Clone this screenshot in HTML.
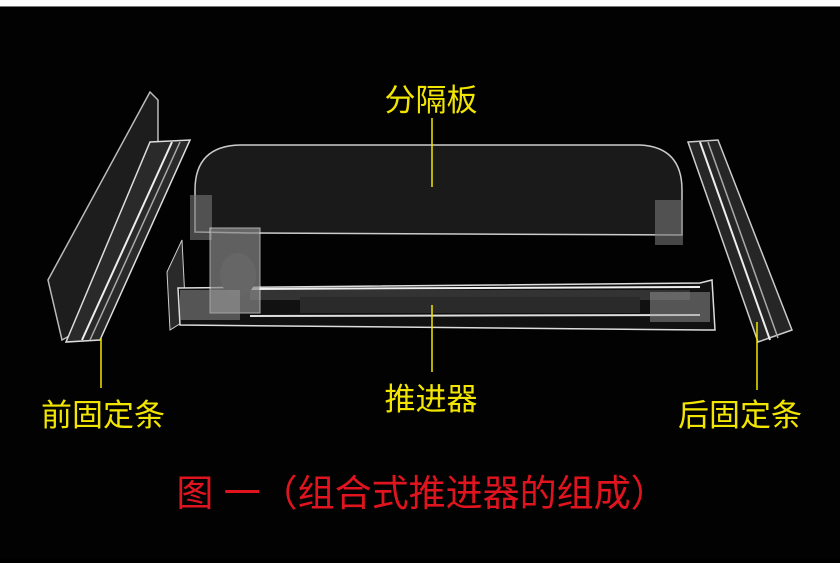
<!DOCTYPE html>
<html><head><meta charset="utf-8"><style>
html,body{margin:0;padding:0;background:#000;}
.t{font-family:"Liberation Sans","Noto Sans CJK SC",sans-serif;}
</style></head><body>
<svg width="840" height="558" viewBox="0 0 840 558" xmlns="http://www.w3.org/2000/svg">
<rect width="840" height="558" fill="#020202"/>
<rect width="840" height="6" fill="#fff"/>
<rect y="6" width="840" height="1" fill="#777"/>
<!-- left strip -->
<polygon points="48,280 150,92 158,100 158,150 80,330 62,340" fill="#1d1d1d" stroke="#bbb" stroke-width="1.5"/>
<polygon points="150,142 190,140 100,340 66,342" fill="#2a2a2a" stroke="#ddd" stroke-width="1.5"/>
<line x1="172" y1="142" x2="82" y2="340" stroke="#eee" stroke-width="2"/>
<line x1="180" y1="142" x2="90" y2="340" stroke="#aaa" stroke-width="1.5"/>
<!-- right strip -->
<polygon points="688,142 718,140 792,330 758,342" fill="#262626" stroke="#ccc" stroke-width="1.5"/>
<line x1="700" y1="142" x2="770" y2="340" stroke="#eee" stroke-width="2"/>
<line x1="708" y1="142" x2="778" y2="338" stroke="#aaa" stroke-width="1.5"/>
<!-- divider -->
<path d="M195,210 L195,190 Q195,146 240,145 L640,145 Q682,147 682,190 L682,235 L250,233 L195,232 Z" fill="#1a1a1a" stroke="#ccc" stroke-width="1.5"/>
<rect x="190" y="195" width="22" height="45" fill="#777" opacity="0.6"/>
<rect x="655" y="200" width="28" height="45" fill="#777" opacity="0.6"/>
<!-- pusher -->
<polygon points="167,272 182,240 186,320 170,330" fill="#2a2a2a" stroke="#ccc"/>
<polygon points="178,288 700,283 712,280 715,330 705,330 180,325" fill="#111" stroke="#ddd" stroke-width="1.5"/>
<rect x="250" y="290" width="440" height="10" fill="#333"/>
<line x1="250" y1="289" x2="700" y2="287" stroke="#eee" stroke-width="2"/>
<line x1="250" y1="316" x2="700" y2="315" stroke="#ddd" stroke-width="2"/>
<rect x="300" y="297" width="340" height="16" fill="#2a2a2a"/>
<rect x="210" y="228" width="50" height="85" fill="#888" opacity="0.7" stroke="#eee"/>
<ellipse cx="238" cy="275" rx="18" ry="22" fill="#666"/>
<rect x="180" y="290" width="60" height="30" fill="#999" opacity="0.5"/>
<rect x="650" y="292" width="60" height="30" fill="#999" opacity="0.5"/>
<!-- leader lines -->
<g stroke="#f2e600" stroke-width="1.5">
<line x1="432" y1="118" x2="432" y2="187"/>
<line x1="432" y1="305" x2="432" y2="372"/>
<line x1="101" y1="338" x2="101" y2="388"/>
<line x1="757" y1="322" x2="757" y2="390"/>
</g>
<g class="t" fill="#f2e600" font-size="31" text-anchor="middle">
<text x="431" y="111">分隔板</text>
<text x="431" y="410">推进器</text>
<text x="103" y="426">前固定条</text>
<text x="740" y="426">后固定条</text>
</g>
<text class="t" x="422" y="506" fill="#e0141e" font-size="37" text-anchor="middle">图 一（组合式推进器的组成）</text>
</svg>
</body></html>
